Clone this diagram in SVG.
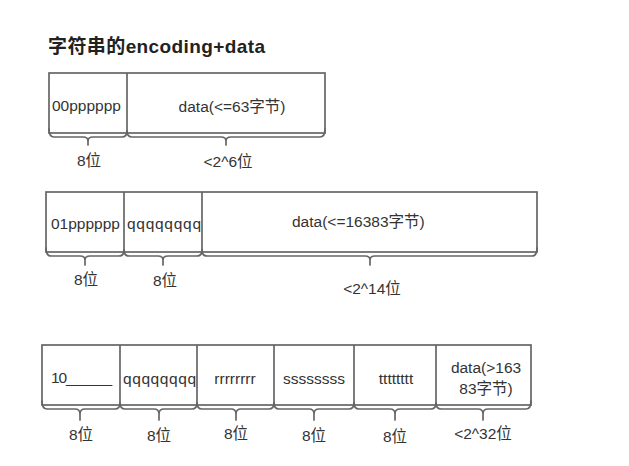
<svg xmlns="http://www.w3.org/2000/svg" width="629" height="466" viewBox="0 0 629 466">
<style>
text{font-family:"Liberation Sans","Noto Sans CJK SC",sans-serif;fill:#333;font-size:15.5px;dominant-baseline:central}
.c{text-anchor:middle}
.box{fill:#fff;stroke:#666;stroke-width:1.7}
.div{stroke:#666;stroke-width:1.7}
.br{fill:none;stroke:#666;stroke-width:1.7;stroke-linecap:round}
.t{font-size:19px;font-weight:bold;fill:#222}
</style>
<rect width="629" height="466" fill="#fff"/>
<text class="t" x="48" y="46" textLength="217">字符串的encoding+data</text>

<g id="row1">
  <rect class="box" x="49" y="73" width="276" height="60"/>
  <line class="div" x1="127" y1="73" x2="127" y2="133"/>
  <text x="52" y="105">00pppppp</text>
  <text class="c" x="232" y="106">data(&lt;=63字节)</text>
</g>
<g id="row2">
  <rect class="box" x="46" y="192" width="491" height="60"/>
  <line class="div" x1="124" y1="192" x2="124" y2="252"/>
  <line class="div" x1="202" y1="192" x2="202" y2="252"/>
  <text x="51" y="223">01pppppp</text>
  <text x="127" y="223" textLength="74">qqqqqqqq</text>
  <text x="292" y="221">data(&lt;=16383字节)</text>
</g>
<g id="row3">
  <rect class="box" x="42" y="345" width="489" height="60"/>
  <line class="div" x1="120" y1="345" x2="120" y2="405"/>
  <line class="div" x1="197" y1="345" x2="197" y2="405"/>
  <line class="div" x1="274" y1="345" x2="274" y2="405"/>
  <line class="div" x1="354" y1="345" x2="354" y2="405"/>
  <line class="div" x1="436" y1="345" x2="436" y2="405"/>
  <text x="51" y="377" textLength="61">10______</text>
  <text x="123" y="378" textLength="73">qqqqqqqq</text>
  <text class="c" x="235" y="378">rrrrrrrr</text>
  <text class="c" x="314" y="378">ssssssss</text>
  <text class="c" x="396" y="378">tttttttt</text>
  <text class="c" x="486" y="367">data(&gt;163</text>
  <text class="c" x="486" y="388">83字节)</text>
</g>

<g id="braces">
  <path class="br" d="M49,129 Q49,137 54,137 L83,137 Q88,137 88,141 L88,145 M88,141 Q88,137 93,137 L122,137 Q127,137 127,131"/>
  <path class="br" d="M127,131 Q127,137 132,137 L221,137 Q226,137 226,141 L226,145 M226,141 Q226,137 231,137 L320,137 Q325,137 325,129"/>

  <path class="br" d="M46,248 Q46,256 51,256 L80,256 Q85,256 85,260 L85,265 M85,260 Q85,256 90,256 L119,256 Q124,256 124,250"/>
  <path class="br" d="M124,250 Q124,256 129,256 L158,256 Q163,256 163,260 L163,265 M163,260 Q163,256 168,256 L197,256 Q202,256 202,250"/>
  <path class="br" d="M202,250 Q202,256 207,256 L365,256 Q370,256 370,260 L370,265 M370,260 Q370,256 375,256 L532,256 Q537,256 537,248"/>

  <path class="br" d="M42,401 Q42,409 47,409 L75,409 Q80,409 80,414 L80,420 M80,414 Q80,409 85,409 L115,409 Q120,409 120,403"/>
  <path class="br" d="M120,403 Q120,409 125,409 L154,409 Q159,409 159,414 L159,420 M159,414 Q159,409 164,409 L192,409 Q197,409 197,403"/>
  <path class="br" d="M197,403 Q197,409 202,409 L231,409 Q236,409 236,414 L236,420 M236,414 Q236,409 241,409 L269,409 Q274,409 274,403"/>
  <path class="br" d="M274,403 Q274,409 279,409 L309,409 Q314,409 314,414 L314,420 M314,414 Q314,409 319,409 L349,409 Q354,409 354,403"/>
  <path class="br" d="M354,403 Q354,409 359,409 L390,409 Q395,409 395,414 L395,420 M395,414 Q395,409 400,409 L431,409 Q436,409 436,403"/>
  <path class="br" d="M436,403 Q436,409 441,409 L478,409 Q483,409 483,414 L483,420 M483,414 Q483,409 488,409 L526,409 Q531,409 531,401"/>
</g>

<g id="labels">
  <text class="c" x="89" y="160">8位</text>
  <text class="c" x="228" y="161">&lt;2^6位</text>
  <text class="c" x="86" y="279">8位</text>
  <text class="c" x="165" y="280">8位</text>
  <text class="c" x="372" y="288">&lt;2^14位</text>
  <text class="c" x="81" y="434">8位</text>
  <text class="c" x="159" y="435">8位</text>
  <text class="c" x="236" y="433">8位</text>
  <text class="c" x="314" y="435">8位</text>
  <text class="c" x="395" y="436">8位</text>
  <text class="c" x="483" y="433">&lt;2^32位</text>
</g>
</svg>
